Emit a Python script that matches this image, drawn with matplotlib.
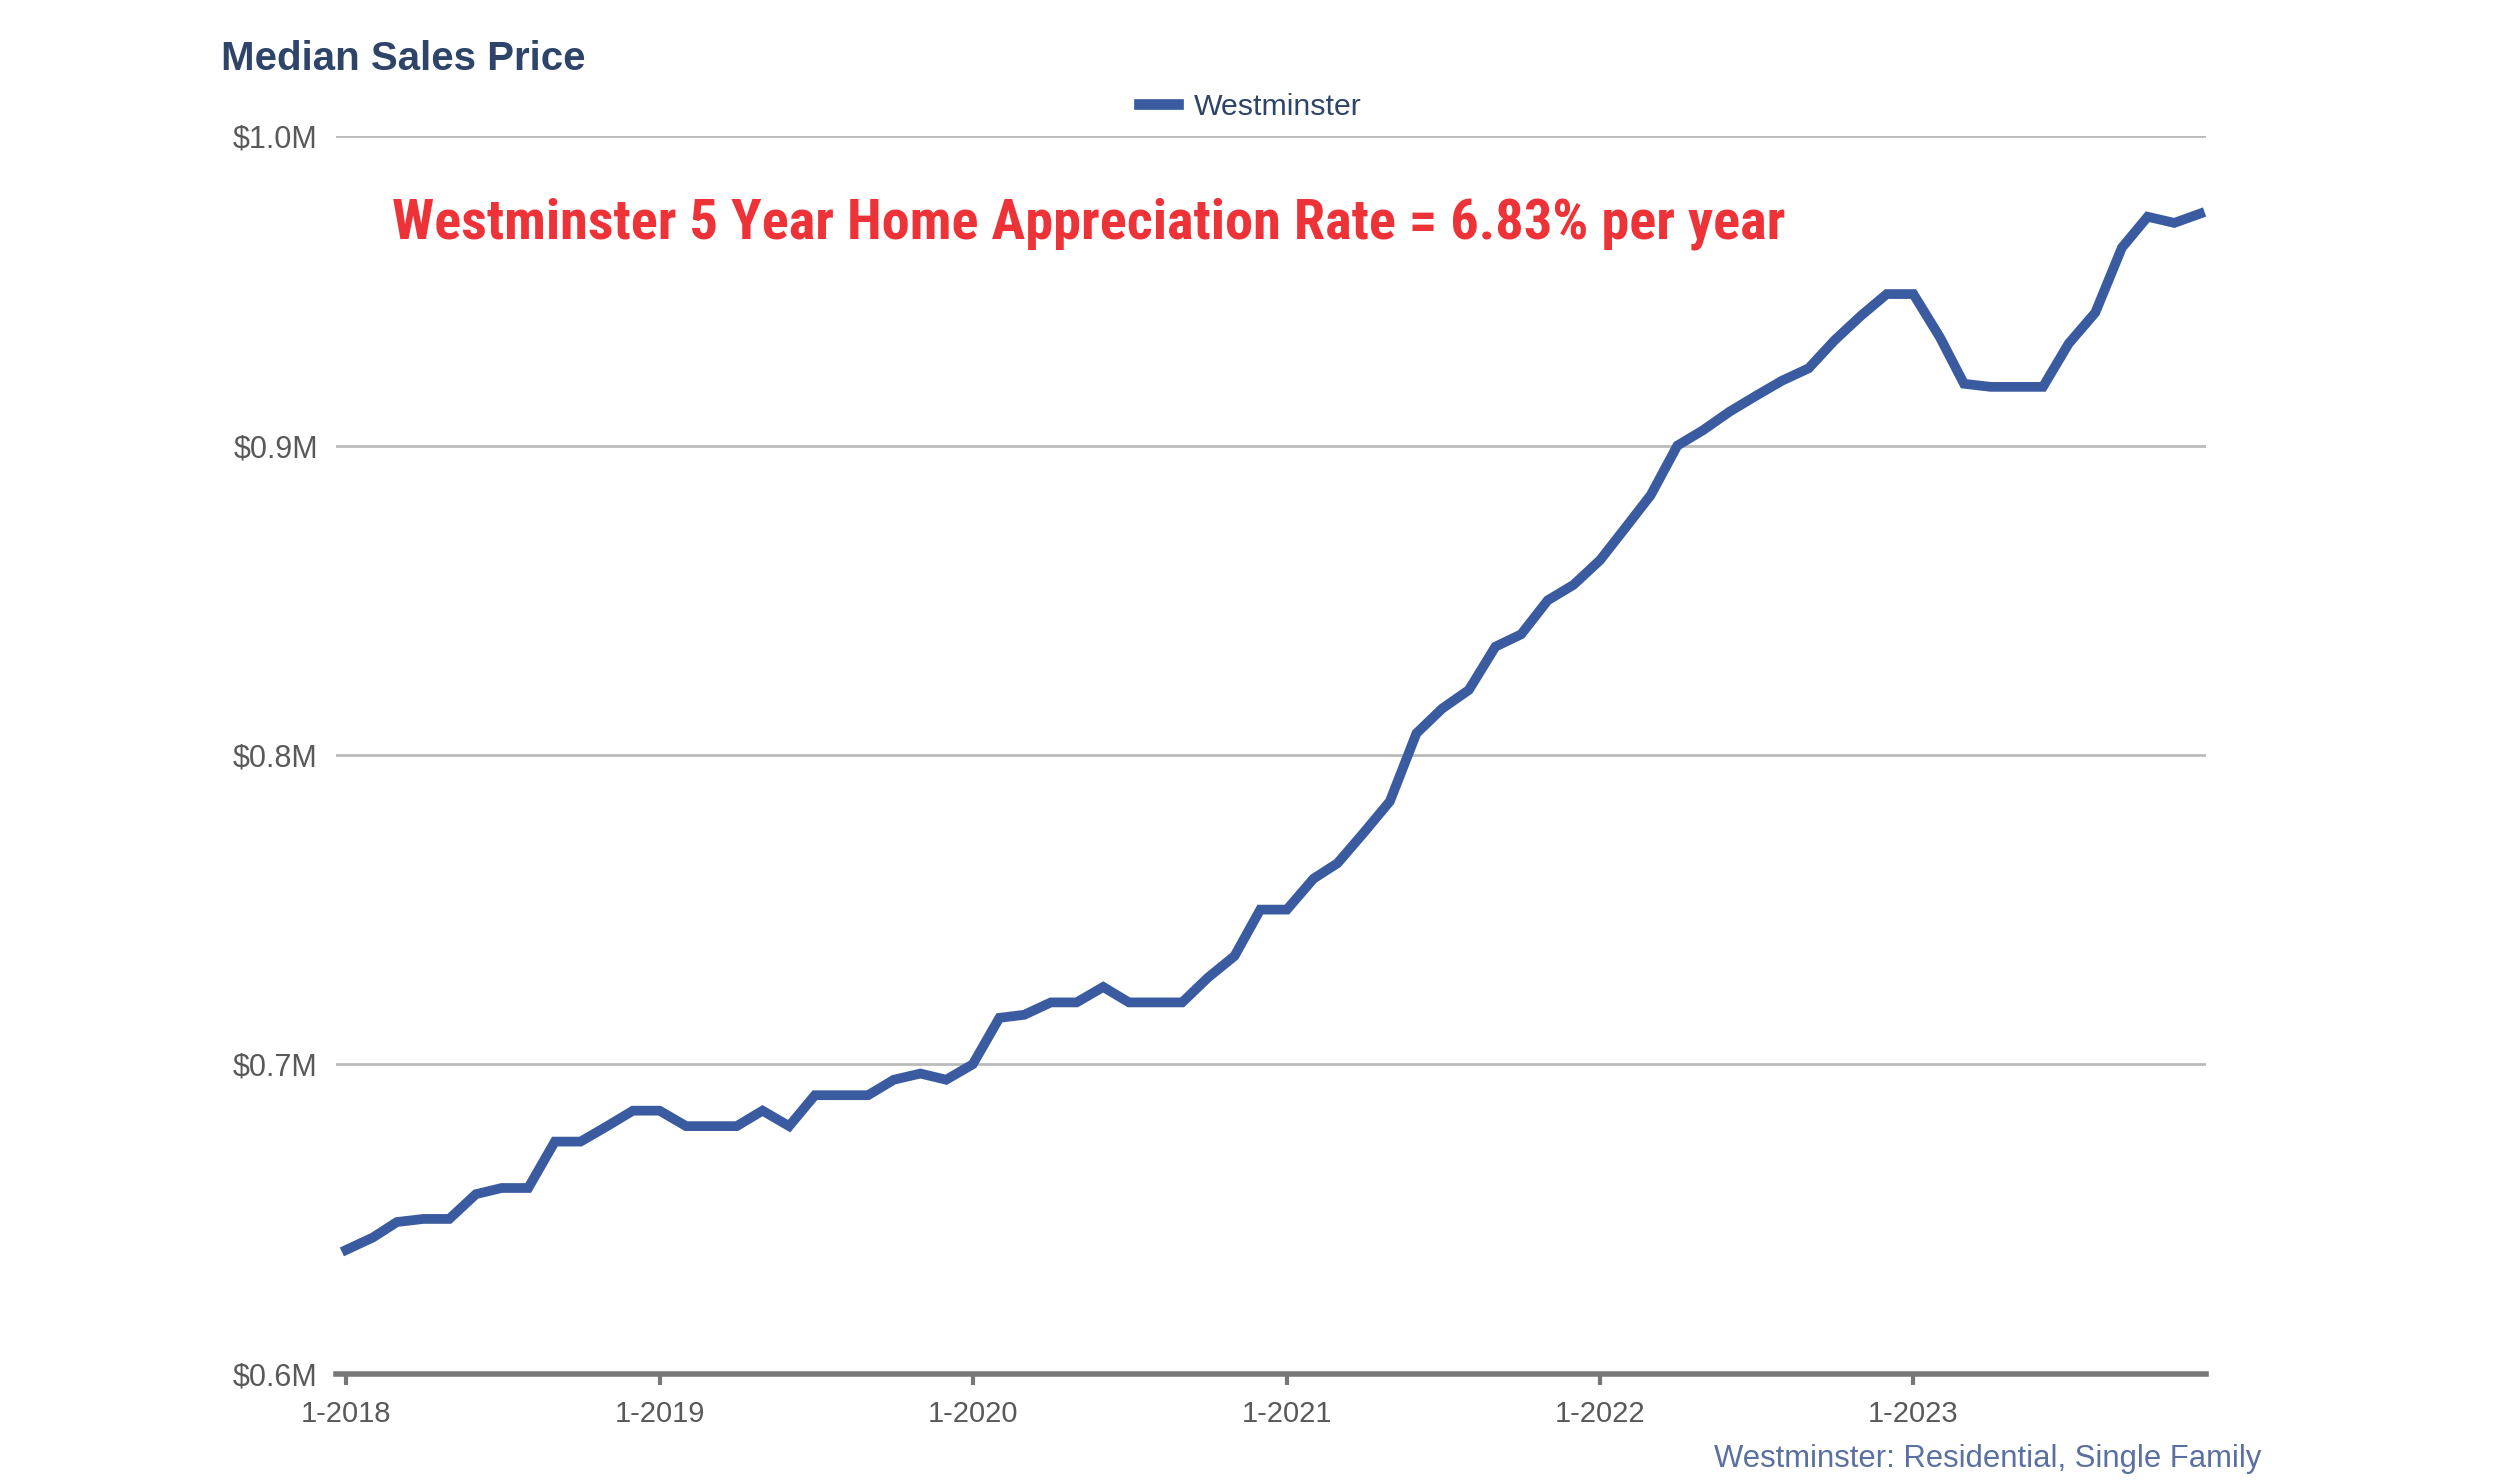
import numpy as np
import pandas as pd
import matplotlib
matplotlib.use("Agg")
import matplotlib.pyplot as plt

# monthly median sales price, Jan 2018 - Dec 2023 (millions of $)
start_month = "2018-01-01"
prices = [
    0.640, 0.644, 0.649, 0.650, 0.650, 0.658, 0.660, 0.660, 0.675, 0.675, 0.680, 0.685,
    0.685, 0.680, 0.680, 0.680, 0.685, 0.680, 0.690, 0.690, 0.690, 0.695, 0.697, 0.695,
    0.700, 0.715, 0.716, 0.720, 0.720, 0.725, 0.720, 0.720, 0.720, 0.728, 0.735, 0.750,
    0.750, 0.760, 0.765, 0.775, 0.785, 0.807, 0.815, 0.821, 0.835, 0.839, 0.850, 0.855,
    0.863, 0.874, 0.884, 0.900, 0.905, 0.911, 0.916, 0.921, 0.925, 0.934, 0.942, 0.949,
    0.949, 0.935, 0.920, 0.919, 0.919, 0.919, 0.933, 0.943, 0.964, 0.974, 0.972, 0.975,
]
series_name = "Westminster"
y_ticks = [0.6, 0.7, 0.8, 0.9, 1.0]
y_tick_labels = ["$0.6M", "$0.7M", "$0.8M", "$0.9M", "$1.0M"]
x_tick_years = [2018, 2019, 2020, 2021, 2022, 2023]

title = "Median Sales Price"
note = "Westminster 5 Year Home Appreciation Rate = 6.83% per year"
caption = "Westminster: Residential, Single Family"

dates = pd.date_range(start_month, periods=len(prices), freq="MS")

plt.rcParams["font.family"] = ["Liberation Sans", "DejaVu Sans"]

fig = plt.figure(figsize=(25, 14.8), dpi=100)
ax = fig.add_axes([0.1344, 0.0719, 0.748, 0.836])

line_color = "#3a5ba0"
ax.plot(dates, prices, color=line_color, lw=7, solid_joinstyle="miter",
        label=series_name)

ax.set_ylim(0.6, 1.0)
ax.set_yticks(y_ticks)
ax.set_yticklabels(y_tick_labels)
ax.set_xlim(pd.Timestamp("2017-12-20"), pd.Timestamp("2023-12-08"))
ax.set_xticks([pd.Timestamp(f"{y}-01-01") for y in x_tick_years])
ax.set_xticklabels([f"1-{y}" for y in x_tick_years])

ax.grid(axis="y", color="#bbbbbb", lw=2)
ax.set_axisbelow(True)
for s in ["top", "right", "left"]:
    ax.spines[s].set_visible(False)
ax.spines["bottom"].set_color("#777777")
ax.spines["bottom"].set_linewidth(4)
ax.spines["bottom"].set_zorder(1)

ax.tick_params(axis="y", length=0, pad=13, labelsize=22, labelcolor="#595959")
ax.tick_params(axis="x", length=8, width=3, color="#777777", pad=11,
               labelsize=21, labelcolor="#595959")

fig.text(0.0885, 0.960, title, fontsize=29, fontweight="bold", color="#2e4468",
         va="center", ha="left")

fig.legend(loc="center", bbox_to_anchor=(0.5, 0.928), frameon=False,
           fontsize=21.8, handlelength=1.3, handletextpad=0.5, labelcolor="#2e4468")
leg = fig.legends[0]
for h in leg.get_lines():
    h.set_linewidth(7.7)

ax.text(0.157, 0.849, note, transform=fig.transFigure, fontsize=40.6,
        fontweight="bold", color="#ee3338", va="center", ha="left",
        family=["Roboto Condensed", "Liberation Sans"])

fig.text(0.9047, 0.0142, caption, fontsize=22.3, color="#5a70a3",
         ha="right", va="center")

fig.savefig("out.png", dpi=100)
